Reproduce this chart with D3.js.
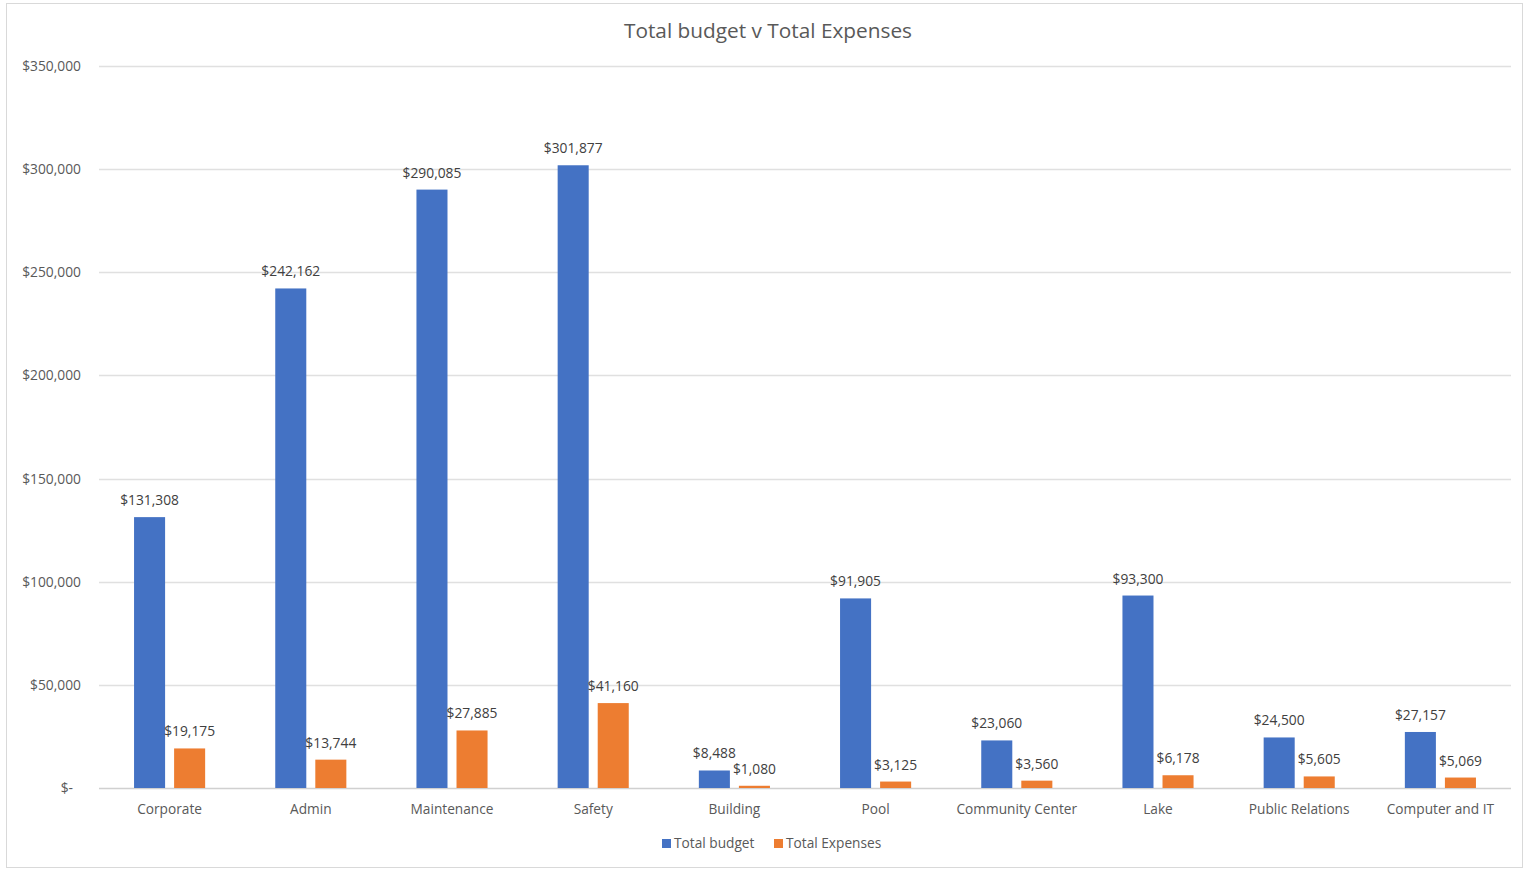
<!DOCTYPE html>
<html>
<head>
<meta charset="utf-8">
<script src="https://cdn.jsdelivr.net/npm/d3@7"></script>
<style>
    body { margin: 0; background: #fff; }
    text { font-family: "Open Sans", "Noto Sans", sans-serif; fill: #595959; }
</style>
</head>
<body>
<div id="chart"></div>
<script>
// chart data
let categories = ["Corporate", "Admin", "Maintenance", "Safety", "Building", "Pool",
    "Community Center", "Lake", "Public Relations", "Computer and IT"];
let totalBudget = [131308, 242162, 290085, 301877, 8488, 91905, 23060, 93300, 24500, 27157];
let totalExpenses = [19175, 13744, 27885, 41160, 1080, 3125, 3560, 6178, 5605, 5069];
let seriesNames = ["Total budget", "Total Expenses"];
let yTicks = [0, 50000, 100000, 150000, 200000, 250000, 300000, 350000];

let colors = ["#4472C4", "#ED7D31"];

let width = 1532, height = 869;
let margin = {top: 66, right: 21, bottom: 81, left: 99};

let svg = d3.select("#chart").append("svg")
    .attr("width", width)
    .attr("height", height);

// outer frame
svg.append("rect")
    .attr("x", 6.5).attr("y", 3.5)
    .attr("width", 1516).attr("height", 864)
    .attr("fill", "none")
    .attr("stroke", "#d9d9d9");

// title
svg.append("text")
    .attr("x", 768).attr("y", 38)
    .attr("text-anchor", "middle")
    .style("font-size", "20.8px")
    .text("Total budget v Total Expenses");

let x0 = d3.scaleBand()
    .domain(categories)
    .range([margin.left, width - margin.right]);

let x1 = d3.scaleBand()
    .domain(seriesNames)
    .range([0, x0.bandwidth()])
    .paddingInner(0.225)
    .paddingOuter(0.875);

let y = d3.scaleLinear()
    .domain([0, 350000])
    .range([788, margin.top]);

let fmt = d => d === 0 ? "$-" : "$" + d3.format(",")(d);

// gridlines
svg.append("g")
    .selectAll("line")
    .data(yTicks)
    .enter().append("line")
    .attr("x1", x0.range()[0])
    .attr("x2", x0.range()[1])
    .attr("y1", d => Math.round(y(d)) + 0.5)
    .attr("y2", d => Math.round(y(d)) + 0.5)
    .attr("stroke", (d, i) => i === 0 ? "#d0d0d0" : "#e0e0e0")
    .attr("stroke-width", 1.3);

// y axis labels
svg.append("g")
    .selectAll("text")
    .data(yTicks)
    .enter().append("text")
    .attr("x", d => d === 0 ? 73 : 81)
    .attr("y", d => y(d) + 5)
    .attr("text-anchor", "end")
    .style("font-size", "13.8px")
    .text(fmt);

// bars
let rows = categories.map((c, i) => ({cat: c, vals: [totalBudget[i], totalExpenses[i]]}));

let groups = svg.append("g")
    .selectAll("g")
    .data(rows)
    .enter().append("g")
    .attr("transform", d => `translate(${x0(d.cat)},0)`);

groups.selectAll("rect")
    .data(d => d.vals.map((v, i) => ({key: seriesNames[i], value: v, i: i})))
    .enter().append("rect")
    .attr("x", d => x1(d.key))
    .attr("y", d => y(d.value))
    .attr("width", x1.bandwidth())
    .attr("height", d => y(0) - y(d.value))
    .attr("fill", d => colors[d.i]);

// data labels
groups.selectAll(".lbl")
    .data(d => d.vals.map((v, i) => ({key: seriesNames[i], value: v})))
    .enter().append("text")
    .attr("class", "lbl")
    .attr("x", d => x1(d.key) + x1.bandwidth() / 2)
    .attr("y", d => y(d.value) - 12)
    .attr("text-anchor", "middle")
    .style("font-size", "13.8px")
    .style("fill", "#404040")
    .text(d => fmt(d.value));

// category labels
svg.append("g")
    .selectAll("text")
    .data(categories)
    .enter().append("text")
    .attr("x", d => x0(d) + x0.bandwidth() / 2)
    .attr("y", 814)
    .attr("text-anchor", "middle")
    .style("font-size", "13.7px")
    .text(d => d);

// legend
let legend = svg.append("g")
    .selectAll("g")
    .data(seriesNames)
    .enter().append("g")
    .attr("transform", (d, i) => `translate(${i === 0 ? 662 : 774}, 839)`);

legend.append("rect")
    .attr("width", 9).attr("height", 9)
    .attr("fill", (d, i) => colors[i]);

legend.append("text")
    .attr("x", 12).attr("y", 9)
    .style("font-size", "13.7px")
    .text(d => d);
</script>
</body>
</html>
